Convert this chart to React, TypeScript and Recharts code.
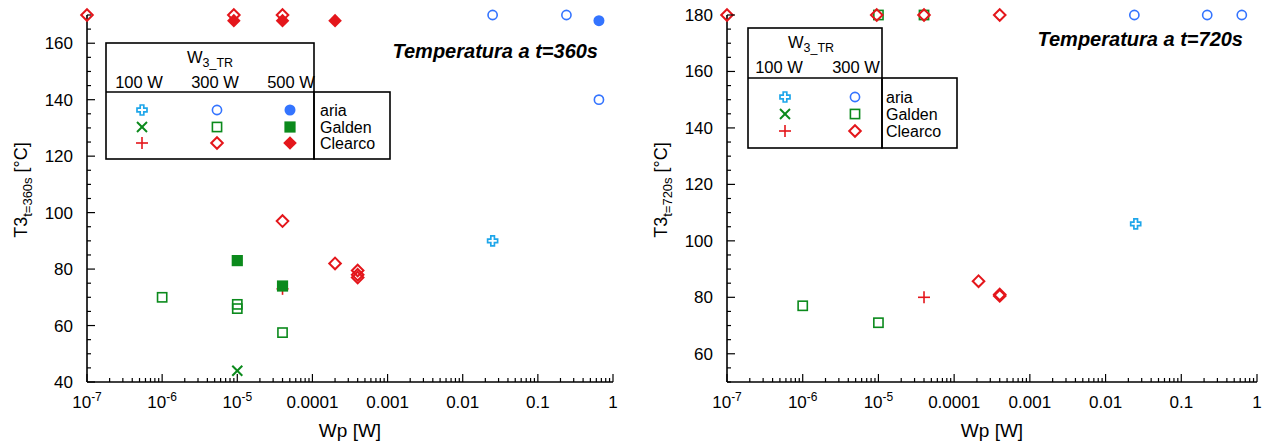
import React from 'react';
import { ScatterChart, Scatter, XAxis, YAxis } from 'recharts';

const FONT = '"Liberation Sans", Arial, Helvetica, sans-serif';

// ---------- axes ----------
const X_DECADES = [1e-7, 1e-6, 1e-5, 1e-4, 1e-3, 1e-2, 1e-1, 1];
const X_LABELS: [string, string][] = [
  ['10', '-7'], ['10', '-6'], ['10', '-5'], ['0.0001', ''], ['0.001', ''], ['0.01', ''], ['0.1', ''], ['1', ''],
];
const X_MINOR_MULT = [2, 3, 4, 5, 6, 7, 8, 9];
const X_TICKS = X_DECADES.flatMap((d, i) => (i < X_DECADES.length - 1 ? [d, ...X_MINOR_MULT.map((m) => m * d)] : [d]));

const Y1_DOMAIN = [40, 170];
const Y1_LABELS = [40, 60, 80, 100, 120, 140, 160];
const Y2_DOMAIN = [50, 180];
const Y2_LABELS = [60, 80, 100, 120, 140, 160, 180];
const Y_MINOR_STEP = 5;
const stepTicks = (d: number[]) => {
  const out: number[] = [];
  for (let v = d[0]; v <= d[1]; v += Y_MINOR_STEP) out.push(v);
  return out;
};

// ---------- data: t = 360 s ----------
const L_ARIA_100 = [{ wp: 0.025, t: 90 }];
const L_ARIA_300 = [{ wp: 0.025, t: 170 }, { wp: 0.24, t: 170 }, { wp: 0.65, t: 140 }];
const L_ARIA_500 = [{ wp: 0.65, t: 168 }];
const L_GALDEN_100 = [{ wp: 1e-5, t: 44 }];
const L_GALDEN_300 = [{ wp: 1e-6, t: 70 }, { wp: 1e-5, t: 67.5 }, { wp: 1e-5, t: 66 }, { wp: 4e-5, t: 57.5 }];
const L_GALDEN_500 = [{ wp: 1e-5, t: 83 }, { wp: 4e-5, t: 74 }];
const L_CLEARCO_100 = [{ wp: 4e-5, t: 73 }];
const L_CLEARCO_300 = [
  { wp: 1e-7, t: 170 }, { wp: 9e-6, t: 170 }, { wp: 4e-5, t: 170 }, { wp: 4e-5, t: 97 },
  { wp: 2e-4, t: 82 }, { wp: 4e-4, t: 79.5 }, { wp: 4e-4, t: 78 }, { wp: 4e-4, t: 77 },
];
const L_CLEARCO_500 = [{ wp: 9e-6, t: 168 }, { wp: 4e-5, t: 168 }, { wp: 2e-4, t: 168 }];

// ---------- data: t = 720 s ----------
const R_ARIA_100 = [{ wp: 0.025, t: 106 }];
const R_ARIA_300 = [{ wp: 0.024, t: 180 }, { wp: 0.22, t: 180 }, { wp: 0.63, t: 180 }];
const R_GALDEN_300 = [{ wp: 1e-6, t: 77 }, { wp: 1e-5, t: 71 }, { wp: 1e-5, t: 180 }, { wp: 4e-5, t: 180 }];
const R_CLEARCO_100 = [{ wp: 4e-5, t: 80 }];
const R_CLEARCO_300 = [
  { wp: 1e-7, t: 180 }, { wp: 9.5e-6, t: 180 }, { wp: 4e-5, t: 180 }, { wp: 4e-4, t: 180 },
  { wp: 2.1e-4, t: 85.7 }, { wp: 4e-4, t: 81 }, { wp: 4e-4, t: 80.5 },
];

// ---------- styles ----------
const COL = { cyan: '#1ea6ea', blue: '#3474ff', green: '#0b8a1c', red: '#e4161b' };

const SHAPES: Record<string, (cx: number, cy: number) => React.ReactElement> = {
  plusO: (cx, cy) => {
    const a = 5, b = 1.8;
    const d = `M${cx - b},${cy - a}H${cx + b}V${cy - b}H${cx + a}V${cy + b}H${cx + b}V${cy + a}H${cx - b}V${cy + b}H${cx - a}V${cy - b}H${cx - b}Z`;
    return <path d={d} fill="none" stroke={COL.cyan} strokeWidth={1.7} />;
  },
  circleO: (cx, cy) => <circle cx={cx} cy={cy} r={4.6} fill="none" stroke={COL.blue} strokeWidth={1.6} />,
  circleF: (cx, cy) => <circle cx={cx} cy={cy} r={5.5} fill={COL.blue} />,
  x: (cx, cy) => (
    <g stroke={COL.green} strokeWidth={2}>
      <line x1={cx - 5} y1={cy - 5} x2={cx + 5} y2={cy + 5} />
      <line x1={cx - 5} y1={cy + 5} x2={cx + 5} y2={cy - 5} />
    </g>
  ),
  squareO: (cx, cy) => <rect x={cx - 4.6} y={cy - 4.6} width={9.2} height={9.2} fill="none" stroke={COL.green} strokeWidth={1.6} />,
  squareF: (cx, cy) => <rect x={cx - 5.6} y={cy - 5.6} width={11.2} height={11.2} fill={COL.green} />,
  plus: (cx, cy) => (
    <g stroke={COL.red} strokeWidth={1.6}>
      <line x1={cx - 6} y1={cy} x2={cx + 6} y2={cy} />
      <line x1={cx} y1={cy - 6} x2={cx} y2={cy + 6} />
    </g>
  ),
  diamondO: (cx, cy) => (
    <path d={`M${cx},${cy - 5.8}L${cx + 5.8},${cy}L${cx},${cy + 5.8}L${cx - 5.8},${cy}Z`} fill="none" stroke={COL.red} strokeWidth={2} />
  ),
  diamondF: (cx, cy) => (
    <path d={`M${cx},${cy - 6.8}L${cx + 6.8},${cy}L${cx},${cy + 6.8}L${cx - 6.8},${cy}Z`} fill={COL.red} />
  ),
};

const LEFT_SERIES = [
  { data: L_ARIA_100, shape: 'plusO' },
  { data: L_GALDEN_100, shape: 'x' },
  { data: L_CLEARCO_100, shape: 'plus' },
  { data: L_ARIA_300, shape: 'circleO' },
  { data: L_GALDEN_300, shape: 'squareO' },
  { data: L_CLEARCO_300, shape: 'diamondO' },
  { data: L_ARIA_500, shape: 'circleF' },
  { data: L_GALDEN_500, shape: 'squareF' },
  { data: L_CLEARCO_500, shape: 'diamondF' },
];
const RIGHT_SERIES = [
  { data: R_ARIA_100, shape: 'plusO' },
  { data: R_CLEARCO_100, shape: 'plus' },
  { data: R_ARIA_300, shape: 'circleO' },
  { data: R_GALDEN_300, shape: 'squareO' },
  { data: R_CLEARCO_300, shape: 'diamondO' },
];

const decadeIndex = (v: number) => X_DECADES.findIndex((d) => Math.abs(v / d - 1) < 1e-6);

const XTickB = (p: any) => {
  const { x, y, payload } = p;
  const i = decadeIndex(payload.value);
  const major = i >= 0;
  return (
    <g>
      <line x1={x} x2={x} y1={y} y2={y - (major ? 8 : 4)} stroke="#000" strokeWidth={1.2} />
      {major && (
        <text x={x} y={y + 26} textAnchor="middle" fontSize={17} fontFamily={FONT} fill="#000">
          {X_LABELS[i][0]}
          {X_LABELS[i][1] && (
            <tspan dy={-7} fontSize={12}>
              {X_LABELS[i][1]}
            </tspan>
          )}
        </text>
      )}
    </g>
  );
};
const XTickT = (p: any) => {
  const { x, y, payload } = p;
  const major = decadeIndex(payload.value) >= 0;
  return <line x1={x} x2={x} y1={y} y2={y + (major ? 8 : 4)} stroke="#000" strokeWidth={1.2} />;
};
const makeYTickL = (labels: number[]) => (p: any) => {
  const { x, y, payload } = p;
  const major = labels.includes(payload.value);
  return (
    <g>
      <line x1={x} x2={x + (major ? 8 : 4)} y1={y} y2={y} stroke="#000" strokeWidth={1.2} />
      {major && (
        <text x={x - 14} y={y + 6} textAnchor="end" fontSize={17} fontFamily={FONT} fill="#000">
          {payload.value}
        </text>
      )}
    </g>
  );
};
const makeYTickR = (labels: number[]) => (p: any) => {
  const { x, y, payload } = p;
  const major = labels.includes(payload.value);
  return <line x1={x} x2={x - (major ? 8 : 4)} y1={y} y2={y} stroke="#000" strokeWidth={1.2} />;
};

const AX = { stroke: '#000', strokeWidth: 1.6 };

function Panel(props: { left: number; yW: number; rightM: number; domain: number[]; labels: number[]; series: any[] }) {
  const { left, yW, rightM, domain, labels, series } = props;
  const yTicks = stepTicks(domain);
  const YL = makeYTickL(labels);
  const YR = makeYTickR(labels);
  return (
    <div style={{ position: 'absolute', left, top: 0 }}>
      <ScatterChart width={632} height={448} margin={{ top: 15, right: rightM, bottom: 0, left: 0 }}>
        <XAxis xAxisId="b" type="number" dataKey="wp" scale="log" domain={[1e-7, 1]} ticks={X_TICKS} interval={0}
          tick={<XTickB />} tickLine={false} tickSize={0} tickMargin={0} height={66} axisLine={AX} />
        <XAxis xAxisId="t" orientation="top" type="number" dataKey="wp" scale="log" domain={[1e-7, 1]} ticks={X_TICKS} interval={0}
          tick={<XTickT />} tickLine={false} tickSize={0} tickMargin={0} height={0} axisLine={AX} />
        <YAxis yAxisId="l" type="number" dataKey="t" domain={domain} ticks={yTicks} interval={0}
          tick={<YL />} tickLine={false} tickSize={0} tickMargin={0} width={yW} axisLine={AX} />
        <YAxis yAxisId="r" orientation="right" type="number" dataKey="t" domain={domain} ticks={yTicks} interval={0}
          tick={<YR />} tickLine={false} tickSize={0} tickMargin={0} width={0} axisLine={AX} />
        {series.map((s, i) => (
          <Scatter key={i} xAxisId="b" yAxisId="l" data={s.data} isAnimationActive={false}
            shape={(sp: any) => SHAPES[s.shape](sp.cx, sp.cy)} />
        ))}
      </ScatterChart>
    </div>
  );
}

const LEG_ROWS = ['aria', 'Galden', 'Clearco'];
const LEG_SHAPES = [
  ['plusO', 'circleO', 'circleF'],
  ['x', 'squareO', 'squareF'],
  ['plus', 'diamondO', 'diamondF'],
];
const LEG_COLS = ['100 W', '300 W', '500 W'];

function Legend(p: { x0: number; top: number; div: number; bottom: number; xMid: number; xName: number; titleX: number; titleB: number; headB: number; colX: number[]; symX: number[]; rowY: number[]; nameX: number }) {
  const n = p.colX.length;
  return (
    <g fontFamily={FONT} fill="#000">
      <rect x={p.x0} y={p.top} width={p.xMid - p.x0} height={p.bottom - p.top} fill="none" stroke="#000" strokeWidth={1.6} />
      <rect x={p.xMid} y={p.div} width={p.xName - p.xMid} height={p.bottom - p.div} fill="none" stroke="#000" strokeWidth={1.6} />
      <line x1={p.x0} x2={p.xMid} y1={p.div} y2={p.div} stroke="#000" strokeWidth={1.6} />
      <text x={p.titleX} y={p.titleB} textAnchor="middle" fontSize={16.5}>
        W<tspan dy={4} fontSize={12.5}>3_TR</tspan>
      </text>
      {LEG_COLS.slice(0, n).map((c, i) => (
        <text key={c} x={p.colX[i]} y={p.headB} textAnchor="middle" fontSize={16.5}>{c}</text>
      ))}
      {LEG_ROWS.map((r, ri) => (
        <g key={r}>
          {p.symX.map((sx, ci) => <g key={ci}>{SHAPES[LEG_SHAPES[ri][ci]](sx, p.rowY[ri])}</g>)}
          <text x={p.nameX} y={p.rowY[ri] + 6} fontSize={16}>{r}</text>
        </g>
      ))}
    </g>
  );
}

export default function App() {
  return (
    <div style={{ position: 'absolute', left: 0, top: 0, width: 1264, height: 448, background: '#fff' }}>
      <Panel left={0} yW={87} rightM={19} domain={Y1_DOMAIN} labels={Y1_LABELS} series={LEFT_SERIES} />
      <Panel left={632} yW={95} rightM={7} domain={Y2_DOMAIN} labels={Y2_LABELS} series={RIGHT_SERIES} />
      <svg width={1264} height={448} style={{ position: 'absolute', left: 0, top: 0, pointerEvents: 'none' }}>
        <g fontFamily={FONT} fill="#000">
          <text transform="translate(27,190) rotate(-90)" textAnchor="middle" fontSize={18}>
            T3<tspan dy={5} fontSize={13}>t=360s</tspan><tspan dy={-5} fontSize={18}> [°C]</tspan>
          </text>
          <text transform="translate(667,190) rotate(-90)" textAnchor="middle" fontSize={18}>
            T3<tspan dy={5} fontSize={13}>t=720s</tspan><tspan dy={-5} fontSize={18}> [°C]</tspan>
          </text>
          <text x={350} y={437} textAnchor="middle" fontSize={19}>Wp [W]</text>
          <text x={992} y={437} textAnchor="middle" fontSize={19}>Wp [W]</text>
          <text x={598} y={58} textAnchor="end" fontSize={20} fontWeight="bold" fontStyle="italic">Temperatura a t=360s</text>
          <text x={1243} y={46} textAnchor="end" fontSize={20} fontWeight="bold" fontStyle="italic">Temperatura a t=720s</text>
        </g>
        <Legend x0={106} top={43} div={92} bottom={159} xMid={314} xName={390} titleX={210} titleB={63} headB={88}
          colX={[139, 215, 291]} symX={[142, 217, 290]} rowY={[110, 127, 143]} nameX={320} />
        <Legend x0={748} top={28} div={78} bottom={148} xMid={882} xName={957} titleX={811} titleB={48} headB={73}
          colX={[779, 856]} symX={[785, 855]} rowY={[97, 114, 131]} nameX={886} />
      </svg>
    </div>
  );
}
